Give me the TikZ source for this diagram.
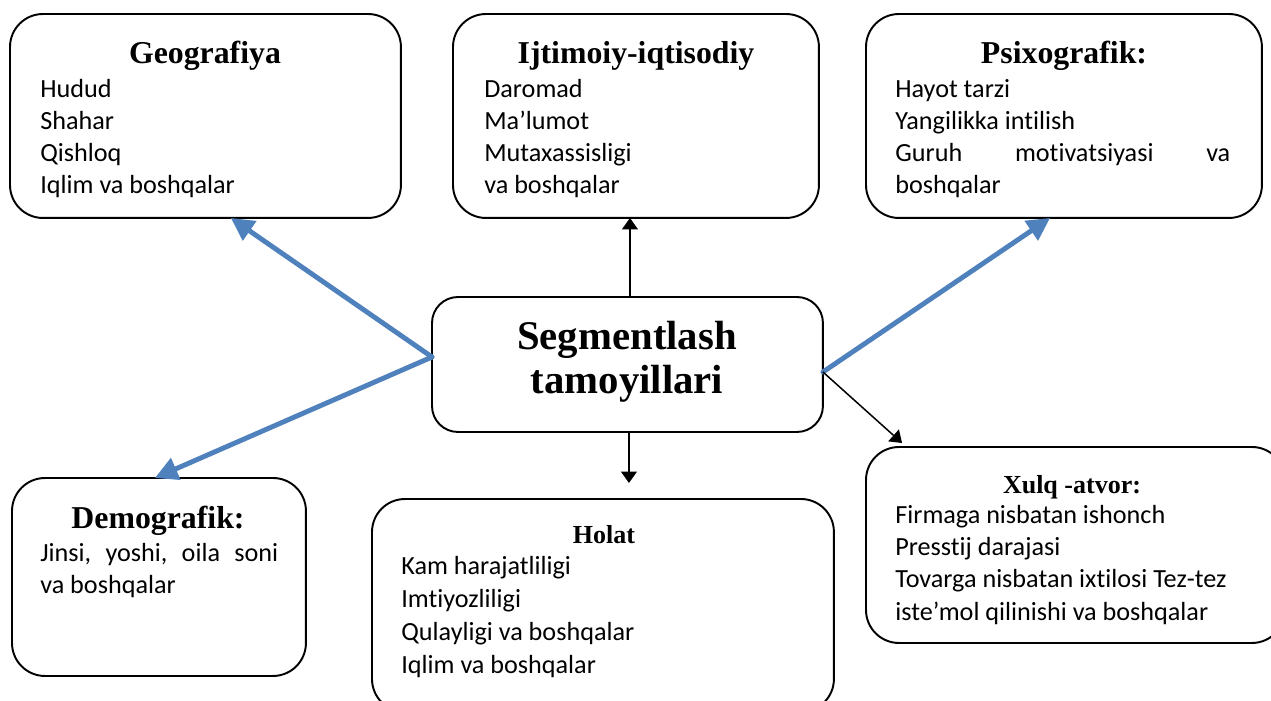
\documentclass[tikz,border=0pt]{standalone}
\usepackage{fontspec}
\setmainfont{Carlito}[Ligatures={NoCommon,NoContextual}]
\newfontfamily\headfont{Liberation Serif}
\usetikzlibrary{arrows.meta,calc}
\definecolor{accentblue}{RGB}{79,129,189}

\tikzset{
  box/.style={draw, line width=1.1pt, rounded corners=0.66cm, inner sep=0pt,
    outer sep=0pt, anchor=north west},
  hub/.style={box, rounded corners=0.52cm},
  item/.style={anchor=base west, inner sep=0pt, font=\fontsize{14.9}{18}\selectfont},
  head/.style={anchor=base, inner sep=0pt, font=\headfont\bfseries\fontsize{18.1}{22}\selectfont},
  headsmall/.style={anchor=base, inner sep=0pt, font=\headfont\bfseries\fontsize{14.8}{18}\selectfont},
  hubtext/.style={anchor=base, inner sep=0pt, font=\headfont\bfseries\fontsize{23.2}{26}\selectfont},
  bluearrow/.style={draw=accentblue, line width=2.8pt, line cap=round,
    -{Triangle[length=13pt, width=13pt]}},
  thinarrow/.style={draw=black, line width=0.85pt, -{Triangle[length=6.5pt, width=9pt]}}
}

\begin{document}
\begin{tikzpicture}[x=0.02cm, y=-0.02cm]
\useasboundingbox (0,0) rectangle (1271,700);
\clip (0,0) rectangle (1271,700);

% boxes
\node[box, minimum width=7.82cm, minimum height=4.08cm] (geo) at (10,14) {};
\node[box, minimum width=7.32cm, minimum height=4.08cm] (ijt) at (453,14) {};
\node[box, minimum width=7.92cm, minimum height=4.08cm] (psi) at (866,14) {};
\node[hub, minimum width=7.82cm, minimum height=2.70cm] (c) at (432,297) {};
\node[box, minimum width=5.88cm, minimum height=3.96cm] (dem) at (12,478) {};
\node[box, minimum width=9.24cm, minimum height=4.26cm] (hol) at (372,499) {};
\node[box, minimum width=8.38cm, minimum height=3.92cm] (xul) at (866,447) {};

% central node text
\node[hubtext] (c1) at (627,349) {Segmentlash};
\node[hubtext] (c2) at (627,393) {tamoyillari};

% Geografiya
\node[head] (geoh) at (205,63) {Geografiya};
\node[item] (geo1) at (40,97) {Hudud};
\node[item] (geo2) at (40,129) {Shahar};
\node[item] (geo3) at (40,161) {Qishloq};
\node[item] (geo4) at (40,193) {Iqlim va boshqalar};

% Ijtimoiy-iqtisodiy
\node[head] (ijth) at (636,63) {Ijtimoiy-iqtisodiy};
\node[item] (ijt1) at (484,97) {Daromad};
\node[item] (ijt2) at (484,129) {Ma’lumot};
\node[item] (ijt3) at (484,161) {Mutaxassisligi};
\node[item] (ijt4) at (484,193) {va boshqalar};

% Psixografik
\node[head] (psih) at (1064,63) {Psixografik:};
\node[item] (psi1) at (895,97) {Hayot tarzi};
\node[item] (psi2) at (895,129) {Yangilikka intilish};
\node[item] (psi3) at (895,161) {\hbox to 6.7cm{Guruh\hfill motivatsiyasi\hfill va}};
\node[item] (psi4) at (895,193) {boshqalar};

% Demografik
\node[head] (demh) at (158,528) {Demografik:};
\node[item] (dem1) at (40,561) {\hbox to 4.76cm{Jinsi,\hfill yoshi,\hfill oila\hfill soni}};
\node[item] (dem2) at (40,593) {va boshqalar};

% Holat
\node[headsmall] (holh) at (604,543) {Holat};
\node[item] (hol1) at (401,574) {Kam harajatliligi};
\node[item] (hol2) at (401,607) {Imtiyozliligi};
\node[item] (hol3) at (401,640) {Qulayligi va boshqalar};
\node[item] (hol4) at (401,673) {Iqlim va boshqalar};

% Xulq-atvor (text clipped at the lower edge of its frame)
\node[headsmall] (xulh) at (1072,493) {Xulq -atvor:};
\begin{scope}
\clip (866,447) rectangle (1290,624);
\node[item] (xul1) at (895,523) {Firmaga nisbatan ishonch};
\node[item] (xul2) at (895,555) {Presstij darajasi};
\node[item] (xul3) at (895,587) {Tovarga nisbatan ixtilosi Tez-tez};
\node[item] (xul4) at (895,620) {iste’mol qilinishi va boshqalar};
\end{scope}

% connector end points
\coordinate (cl) at ($(c.west)+(0,-7.5)$);
\coordinate (cr) at ($(c.east)+(0,7.5)$);
\coordinate (ctop) at ($(c.north)+(2.5,0)$);
\coordinate (cbot) at ($(c.south)+(1.5,0)$);
\coordinate (geoin) at ($(geo.south west)!0.565!(geo.south east)$);
\coordinate (demin) at ($(dem.north west)!0.486!(dem.north east)$);
\coordinate (psiin) at ($(psi.south west)!0.465!(psi.south east)$);
\coordinate (xulin) at ($(xul.north west)+(40.5,0)$);

% connectors
\draw[bluearrow] (cl) -- (geoin);
\draw[bluearrow] (cl) -- (demin);
\draw[bluearrow] (cr) -- (psiin);
\draw[thinarrow] (ctop) -- (ctop |- ijt.south);
\draw[thinarrow, shorten >=0.32cm] (cbot) -- (cbot |- hol.north);
\draw[thinarrow, shorten >=0.12cm] (cr) -- (xulin);
\end{tikzpicture}
\end{document}
